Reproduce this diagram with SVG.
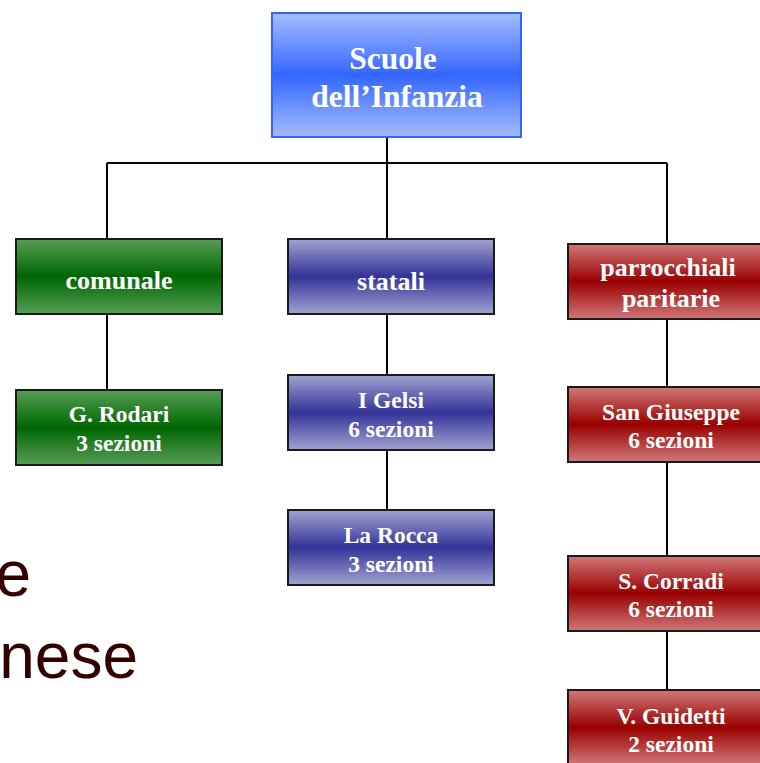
<svg xmlns="http://www.w3.org/2000/svg" width="760" height="763" viewBox="0 0 760 763">
<defs>
<linearGradient id="gBlueTop" x1="0" y1="0" x2="0" y2="1">
<stop offset="0" stop-color="#a6bcff"/><stop offset="0.5" stop-color="#3366ff"/><stop offset="1" stop-color="#a6bcff"/>
</linearGradient>
<linearGradient id="gGreen" x1="0" y1="0" x2="0" y2="1">
<stop offset="0" stop-color="#579d57"/><stop offset="0.5" stop-color="#006600"/><stop offset="1" stop-color="#579d57"/>
</linearGradient>
<linearGradient id="gIndigo" x1="0" y1="0" x2="0" y2="1">
<stop offset="0" stop-color="#a3a3d1"/><stop offset="0.5" stop-color="#333399"/><stop offset="1" stop-color="#a3a3d1"/>
</linearGradient>
<linearGradient id="gRed" x1="0" y1="0" x2="0" y2="1">
<stop offset="0" stop-color="#d17878"/><stop offset="0.5" stop-color="#990000"/><stop offset="1" stop-color="#d17878"/>
</linearGradient>
</defs>
<style>
.box{stroke:#1a1a1a;stroke-width:2}
.t{font-family:"Liberation Serif","Times New Roman",serif;font-weight:bold;fill:#ffffff;text-anchor:middle}
.l1{font-size:26px}
.l2{font-size:23.5px}
.bg{font-family:"Liberation Sans",Arial,sans-serif;font-size:64px;fill:#330000}
.c{stroke:#000000;stroke-width:2;fill:none}
</style>
<rect width="760" height="763" fill="#ffffff"/>
<g id="background-text">
<text class="bg" x="31" y="596" text-anchor="end">e</text>
<text class="bg" x="138" y="678" text-anchor="end">nese</text>
</g>
<g id="connectors">
<path class="c" d="M387 137V163M107 163H667M107 163V239M387 163V239M667 163V244"/>
<path class="c" d="M107 314V390M387 314V375M387 450V510M667 319V387M667 462V556M667 631V690"/>
</g>
<g id="root">
<rect x="272" y="13" width="249" height="124" fill="url(#gBlueTop)" stroke="#3366ff" stroke-width="2"/>
<text class="t" x="393" y="69" font-size="31.5">Scuole</text>
<text class="t" x="397" y="107" font-size="31.5">dell’Infanzia</text>
</g>
<g id="comunale">
<rect class="box" x="16" y="239" width="206" height="75" fill="url(#gGreen)"/>
<text class="t l1" x="119" y="289">comunale</text>
</g>
<g id="statali">
<rect class="box" x="288" y="239" width="206" height="75" fill="url(#gIndigo)"/>
<text class="t l1" x="391" y="290">statali</text>
</g>
<g id="parrocchiali">
<rect class="box" x="568" y="244" width="206" height="75" fill="url(#gRed)"/>
<text class="t l1" x="668" y="276">parrocchiali</text>
<text class="t l1" x="671" y="307">paritarie</text>
</g>
<g id="rodari">
<rect class="box" x="16" y="390" width="206" height="75" fill="url(#gGreen)"/>
<text class="t l2" x="119" y="422">G. Rodari</text>
<text class="t l2" x="119" y="451">3 sezioni</text>
</g>
<g id="gelsi">
<rect class="box" x="288" y="375" width="206" height="75" fill="url(#gIndigo)"/>
<text class="t l2" x="391" y="408">I Gelsi</text>
<text class="t l2" x="391" y="437">6 sezioni</text>
</g>
<g id="rocca">
<rect class="box" x="288" y="510" width="206" height="75" fill="url(#gIndigo)"/>
<text class="t l2" x="391" y="543">La Rocca</text>
<text class="t l2" x="391" y="572">3 sezioni</text>
</g>
<g id="giuseppe">
<rect class="box" x="568" y="387" width="206" height="75" fill="url(#gRed)"/>
<text class="t l2" x="671" y="420">San Giuseppe</text>
<text class="t l2" x="671" y="448">6 sezioni</text>
</g>
<g id="corradi">
<rect class="box" x="568" y="556" width="206" height="75" fill="url(#gRed)"/>
<text class="t l2" x="671" y="589">S. Corradi</text>
<text class="t l2" x="671" y="617">6 sezioni</text>
</g>
<g id="guidetti">
<rect class="box" x="568" y="690" width="206" height="75" fill="url(#gRed)"/>
<text class="t l2" x="671" y="724">V. Guidetti</text>
<text class="t l2" x="671" y="752">2 sezioni</text>
</g>
</svg>
